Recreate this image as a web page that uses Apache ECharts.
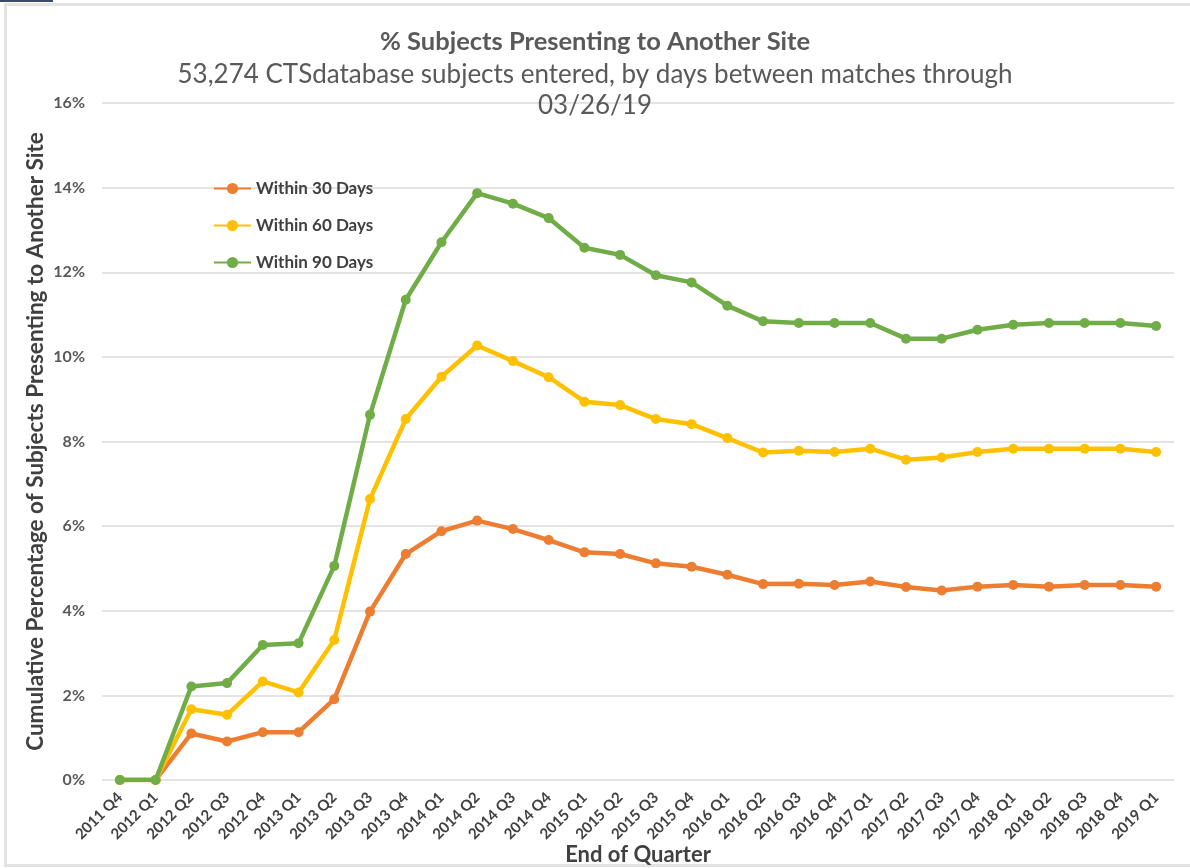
<!DOCTYPE html>
<html>
<head>
<meta charset="utf-8">
<title>% Subjects Presenting to Another Site</title>
<script src="https://cdn.jsdelivr.net/npm/echarts@6/dist/echarts.min.js"></script>
<style>
  html, body { margin: 0; padding: 0; background: #ffffff; }
  #chart { width: 1190px; height: 868px; }
</style>
</head>
<body>
<div id="chart"></div>
<script>
// Quarter-end labels
const quarters = [
  '2011 Q4', '2012 Q1', '2012 Q2', '2012 Q3', '2012 Q4',
  '2013 Q1', '2013 Q2', '2013 Q3', '2013 Q4',
  '2014 Q1', '2014 Q2', '2014 Q3', '2014 Q4',
  '2015 Q1', '2015 Q2', '2015 Q3', '2015 Q4',
  '2016 Q1', '2016 Q2', '2016 Q3', '2016 Q4',
  '2017 Q1', '2017 Q2', '2017 Q3', '2017 Q4',
  '2018 Q1', '2018 Q2', '2018 Q3', '2018 Q4',
  '2019 Q1'
];

// Cumulative % of subjects presenting to another site
const within30 = [
  0, 0, 1.10, 0.91, 1.13, 1.13, 1.91, 3.98, 5.34,
  5.88, 6.13, 5.93, 5.67, 5.38, 5.34, 5.12, 5.04,
  4.85, 4.63, 4.64, 4.61, 4.69, 4.56, 4.48, 4.57,
  4.61, 4.57, 4.61, 4.61, 4.57
];
const within60 = [
  0, 0, 1.67, 1.54, 2.33, 2.07, 3.31, 6.64, 8.53,
  9.53, 10.27, 9.90, 9.52, 8.94, 8.86, 8.53, 8.41,
  8.08, 7.74, 7.78, 7.75, 7.83, 7.57, 7.62, 7.75,
  7.83, 7.83, 7.83, 7.83, 7.75
];
const within90 = [
  0, 0, 2.21, 2.29, 3.19, 3.23, 5.06, 8.63, 11.35,
  12.71, 13.87, 13.62, 13.28, 12.58, 12.41, 11.93, 11.76,
  11.21, 10.84, 10.80, 10.80, 10.80, 10.43, 10.43, 10.64,
  10.76, 10.80, 10.80, 10.80, 10.73
];

const seriesNames = ['Within 30 Days', 'Within 60 Days', 'Within 90 Days'];
const seriesColors = ['#ED7D31', '#FFC000', '#70AD47'];
const seriesValues = [within30, within60, within90];

const FONT = 'Lato, "Open Sans", sans-serif';

const chart = echarts.init(document.getElementById('chart'), null, { renderer: 'canvas' });

const option = {
  backgroundColor: '#ffffff',
  animation: false,
  textStyle: { fontFamily: FONT },
  graphic: [
    // outer frame of the chart area
    { type: 'rect', shape: { x: 5.5, y: 4.5, width: 1200, height: 861 },
      style: { fill: 'none', stroke: '#e3e3e3', lineWidth: 3 }, z: -1 },
    { type: 'rect', shape: { x: 0, y: 0, width: 53, height: 2 },
      style: { fill: '#3b4a6b' }, z: 10 }
  ],
  title: {
    left: 'center',
    top: 27,
    padding: 0,
    itemGap: 2,
    text: '% Subjects Presenting to Another Site',
    textStyle: { fontFamily: FONT, fontSize: 25.5, lineHeight: 30, fontWeight: 'bold', color: '#595959' },
    subtext: '53,274 CTSdatabase subjects entered, by days between matches through\n03/26/19',
    subtextStyle: { fontFamily: FONT, fontSize: 26, color: '#595959', lineHeight: 31, align: 'center' }
  },
  legend: {
    orient: 'vertical',
    left: 213,
    top: 180,
    padding: 0,
    itemGap: 20,
    itemWidth: 37,
    itemHeight: 14,
    data: seriesNames,
    textStyle: { fontFamily: FONT, fontSize: 17, lineHeight: 17, fontWeight: 'bold', color: '#404040' }
  },
  grid: {
    left: 102, right: 16, top: 103, bottom: 88,
    containLabel: false,
    outerBoundsMode: 'none'
  },
  xAxis: {
    type: 'category',
    data: quarters,
    boundaryGap: true,
    name: 'End of Quarter',
    nameLocation: 'middle',
    nameGap: 64,
    nameMoveOverlap: false,
    nameTextStyle: { fontFamily: FONT, fontSize: 22, fontWeight: 'bold', color: '#404040' },
    axisLine: { show: false },
    axisTick: { show: false },
    axisLabel: {
      interval: 0,
      rotate: 45,
      margin: 15,
      fontFamily: FONT,
      fontSize: 15,
      fontWeight: 'bold',
      color: '#404040'
    },
    splitLine: { show: false }
  },
  yAxis: {
    type: 'value',
    min: 0,
    max: 16,
    interval: 2,
    name: 'Cumulative Percentage of Subjects Presenting to Another Site',
    nameLocation: 'middle',
    nameGap: 55,
    nameMoveOverlap: false,
    nameTextStyle: { fontFamily: FONT, fontSize: 22.5, fontWeight: 'bold', color: '#404040' },
    axisLine: { show: false },
    axisTick: { show: false },
    axisLabel: {
      margin: 17,
      fontFamily: FONT,
      fontSize: 16,
      fontWeight: 'bold',
      color: '#595959',
      formatter: v => v + '%'
    },
    splitLine: { lineStyle: { color: '#e4e4e4', width: 2 } }
  },
  series: seriesNames.map((name, i) => ({
    name: name,
    type: 'line',
    data: seriesValues[i],
    color: seriesColors[i],
    symbol: 'circle',
    symbolSize: 10,
    lineStyle: { width: 4.5, color: seriesColors[i] },
    itemStyle: { color: seriesColors[i] },
    z: 2 + i
  }))
};

chart.setOption(option);
</script>
</body>
</html>
